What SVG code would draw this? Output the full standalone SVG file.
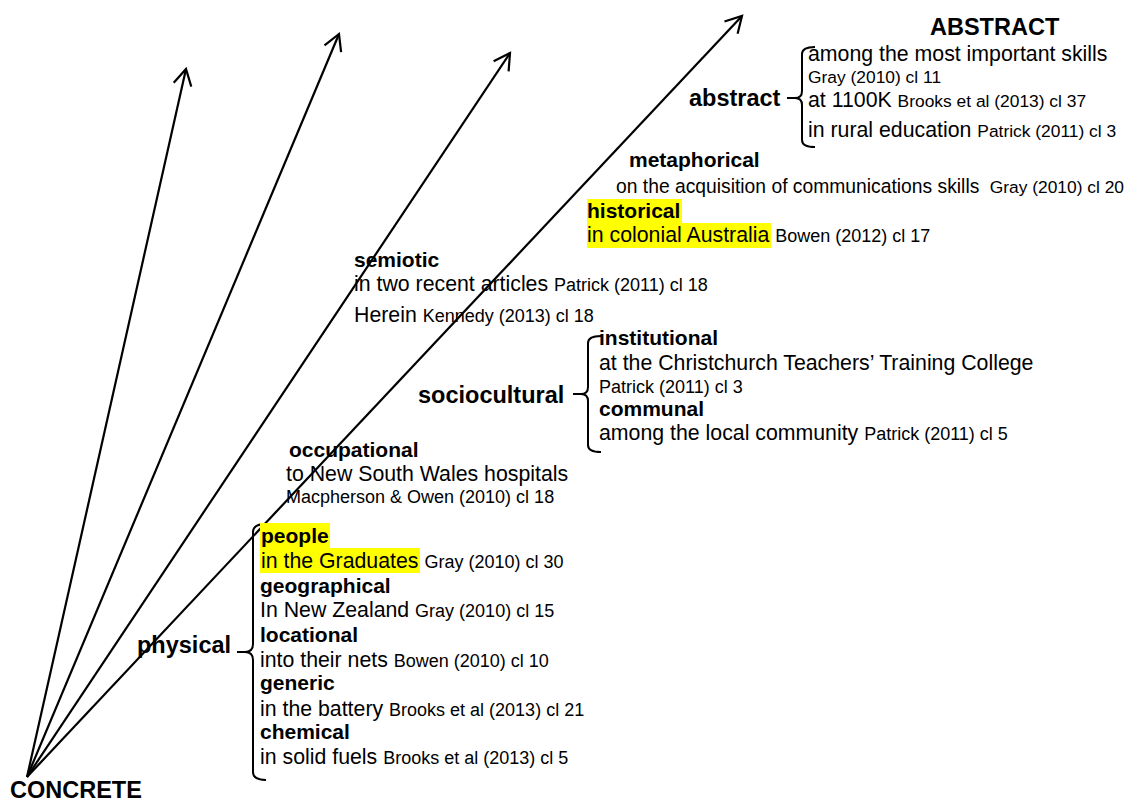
<svg xmlns="http://www.w3.org/2000/svg" width="1130" height="803" viewBox="0 0 1130 803">
  <style>
    text { font-family: "Liberation Sans", Arial, sans-serif; fill: #000; }
    .pole { font-size: 23.5px; font-weight: bold; }
    .grp { font-size: 23.5px; font-weight: bold; }
    .sub { font-size: 21px; font-weight: bold; }
    .txt { font-size: 21.3px; }
    .cite { font-size: 18px; }
    .cite-s { font-size: 17.4px; }
    .brace { fill: none; stroke: #000; stroke-width: 2; stroke-linejoin: round; }
    .axis { stroke: #000; stroke-width: 2.2; fill: none; marker-end: url(#chev); }
    .hl { fill: #ffff00; }
  </style>
  <defs>
    <marker id="chev" markerUnits="userSpaceOnUse" viewBox="-20 -12 24 24" refX="0" refY="0" markerWidth="24" markerHeight="24" orient="auto" overflow="visible">
      <path d="M-16,-9 L0,0 L-16,9" fill="none" stroke="#000" stroke-width="2.2" stroke-linejoin="miter"/>
    </marker>
  </defs>

  <rect width="1130" height="803" fill="#fff"/>

  <!-- axes fanning out from the concrete pole -->
  <g id="connectors">
    <line class="axis" x1="27" y1="777" x2="186" y2="69"/>
    <line class="axis" x1="27" y1="777" x2="339" y2="34"/>
    <line class="axis" x1="27" y1="777" x2="510" y2="53"/>
    <line class="axis" x1="27" y1="777" x2="742" y2="16"/>
  </g>

  <g id="pole-abstract">
    <text class="pole" x="930" y="35">ABSTRACT</text>
  </g>

  <g id="pole-concrete">
    <text class="pole" x="10" y="798">CONCRETE</text>
  </g>

  <g id="node-abstract">
    <text class="grp" x="689" y="106">abstract</text>
    <path class="brace" d="M815,47 Q802,47 802,54 L802,91 Q802,98 795,98 L787,98 M795,98 Q802,98 802,105 L802,140 Q802,147 815,147"/>
    <text class="txt" x="808" y="61">among the most important skills</text>
    <text class="cite-s" x="808" y="83">Gray (2010) cl 11</text>
    <text class="txt" x="808" y="107">at 1100K <tspan class="cite-s">Brooks et al (2013) cl 37</tspan></text>
    <text class="txt" x="808" y="137">in rural education <tspan class="cite-s">Patrick (2011) cl 3</tspan></text>
  </g>

  <g id="node-metaphorical">
    <text class="sub" x="629" y="167">metaphorical</text>
    <text class="txt" x="616" y="193" style="font-size:19.3px">on the acquisition of communications skills <tspan class="cite-s" dx="5">Gray (2010) cl 20</tspan></text>
  </g>

  <g id="node-historical">
    <rect class="hl" x="587" y="199" width="95" height="24"/>
    <rect class="hl" x="587" y="223" width="184" height="25"/>
    <text class="sub" x="587" y="218">historical</text>
    <text class="txt" x="587" y="242">in colonial Australia <tspan class="cite">Bowen (2012) cl 17</tspan></text>
  </g>

  <g id="node-semiotic">
    <text class="sub" x="354" y="267">semiotic</text>
    <text class="txt" x="354" y="291">in two recent articles <tspan class="cite">Patrick (2011) cl 18</tspan></text>
    <text class="txt" x="354" y="322">Herein <tspan class="cite">Kennedy (2013) cl 18</tspan></text>
  </g>

  <g id="node-sociocultural">
    <text class="grp" x="418" y="403">sociocultural</text>
    <path class="brace" d="M601,336 Q588,336 588,343 L588,387 Q588,394 581,394 L573,394 M581,394 Q588,394 588,401 L588,445 Q588,452 601,452"/>
    <text class="sub" x="599" y="345">institutional</text>
    <text class="txt" x="599" y="370">at the Christchurch Teachers’ Training College</text>
    <text class="cite" x="599" y="393">Patrick (2011) cl 3</text>
    <text class="sub" x="599" y="416">communal</text>
    <text class="txt" x="599" y="440">among the local community <tspan class="cite">Patrick (2011) cl 5</tspan></text>
  </g>

  <g id="node-occupational">
    <text class="sub" x="289" y="457">occupational</text>
    <text class="txt" x="286" y="481">to New South Wales hospitals</text>
    <text class="cite" x="286" y="503">Macpherson &amp; Owen (2010) cl 18</text>
  </g>

  <g id="node-physical">
    <text class="grp" x="137" y="653">physical</text>
    <path class="brace" d="M266,524 Q253,524 253,532 L253,644 Q253,652 245,652 L237,652 M245,652 Q253,652 253,660 L253,772 Q253,780 266,780"/>
    <rect class="hl" x="260" y="523" width="70" height="25"/>
    <rect class="hl" x="260" y="548" width="160" height="25"/>
    <text class="sub" x="261" y="543">people</text>
    <text class="txt" x="261" y="568">in the Graduates <tspan class="cite">Gray (2010) cl 30</tspan></text>
    <text class="sub" x="260" y="593">geographical</text>
    <text class="txt" x="260" y="617">In New Zealand <tspan class="cite">Gray (2010) cl 15</tspan></text>
    <text class="sub" x="260" y="642">locational</text>
    <text class="txt" x="260" y="667">into their nets <tspan class="cite">Bowen (2010) cl 10</tspan></text>
    <text class="sub" x="260" y="690">generic</text>
    <text class="txt" x="260" y="716">in the battery <tspan class="cite">Brooks et al (2013) cl 21</tspan></text>
    <text class="sub" x="260" y="739">chemical</text>
    <text class="txt" x="260" y="764">in solid fuels <tspan class="cite">Brooks et al (2013) cl 5</tspan></text>
  </g>
</svg>
